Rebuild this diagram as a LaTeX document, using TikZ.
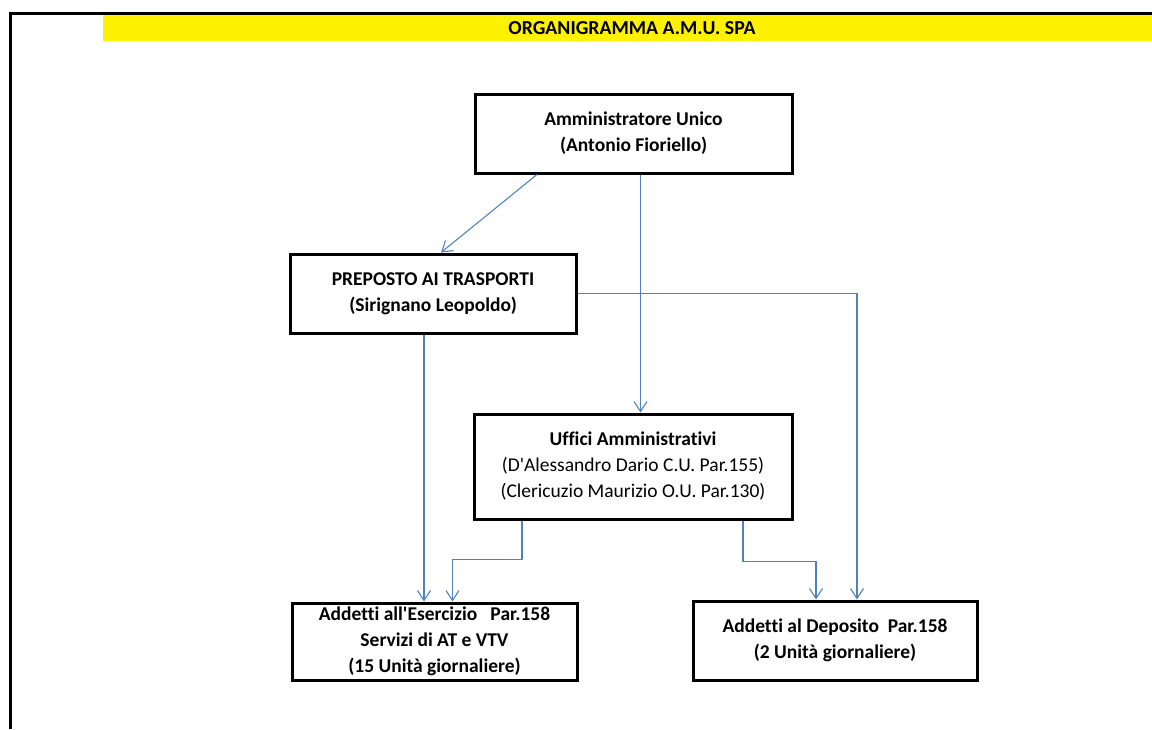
\documentclass[tikz,border=0pt]{standalone}
\usepackage{fontspec}
\setmainfont{Carlito}[Ligatures={NoCommon}]
\usetikzlibrary{arrows.meta}
\definecolor{linkblue}{RGB}{79,129,189}
\tikzset{
  box/.style={draw,line width=3pt,rectangle,align=center,inner sep=0pt,
    font=\fontsize{19.5}{26}\selectfont},
  link/.style={linkblue,line width=1.1pt,-{Straight Barb[length=10pt,width=13pt]}}
}
\begin{document}
\begin{tikzpicture}[x=1pt,y=-1pt]
\useasboundingbox (0,0) rectangle (1152,729);
\fill[yellow] (103,15) rectangle (1152,41);
\draw[line width=3pt] (10.5,729) -- (10.5,13.5) -- (1152,13.5);
\node (title) at (632,28.5) {\fontsize{19.8}{22}\selectfont\bfseries ORGANIGRAMMA A.M.U. SPA};

\node[box,minimum width=317,minimum height=79] (a) at (633.5,133.5)
  {\bfseries Amministratore Unico\\\bfseries (Antonio Fioriello)};
\node[box,minimum width=286,minimum height=79] (p) at (433,293.5)
  {\bfseries PREPOSTO AI TRASPORTI\\\bfseries (Sirignano Leopoldo)};
\node[box,minimum width=318,minimum height=105] (u) at (633,466.5)
  {\bfseries Uffici Amministrativi\\(D\textquotesingle Alessandro Dario C.U. Par.155)\\(Clericuzio Maurizio O.U. Par.130)};
\node[box,minimum width=285,minimum height=77] (e) at (434.5,641.5)
  {\bfseries Addetti all\textquotesingle Esercizio\ \ \ Par.158\\\bfseries Servizi di AT e VTV\\\bfseries (15 Unità giornaliere)};
\node[box,minimum width=284,minimum height=79] (d) at (835,640.5)
  {\bfseries Addetti al Deposito\ \ Par.158\\\bfseries (2 Unità giornaliere)};

% connectors
\draw[link] ([xshift=-96.5pt]a.south) -- ([xshift=8pt]p.north);
\draw[link] ([xshift=7pt]a.south) -- ([xshift=7pt]a.south |- u.north);
\draw[link] (p.east) -| ([xshift=22pt]d.north);
\draw[link] ([xshift=-9pt]p.south) -- ([xshift=-9pt]p.south |- e.north);
\draw[link] ([xshift=-111pt]u.south) -- ++(0,39) -| ([xshift=18pt]e.north);
\draw[link] ([xshift=110pt]u.south) -- ++(0,41) -| ([xshift=-19pt]d.north);
\end{tikzpicture}
\end{document}
